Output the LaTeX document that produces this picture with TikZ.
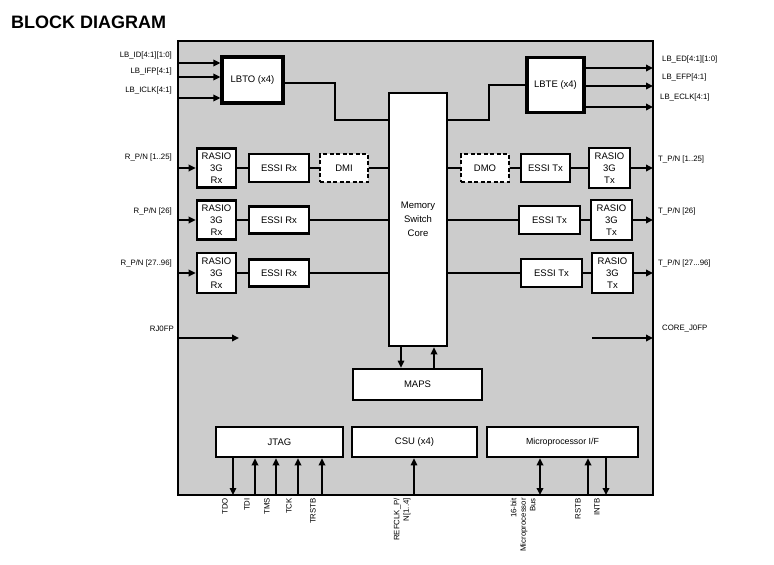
\documentclass[tikz,border=0pt]{standalone}
\usepackage{fontspec}
\setmainfont{Liberation Sans}
\usetikzlibrary{arrows.meta}
\definecolor{bg}{HTML}{CCCCCC}
\begin{document}
\begin{tikzpicture}[x=1pt,y=-1pt,
  blk/.style={draw, line width=2.6pt, fill=white, inner sep=0pt, align=center,
    font=\fontsize{9.5}{12}\selectfont},
  bigblk/.style={blk, line width=3.2pt},
  dblk/.style={blk, dash pattern=on 4pt off 2.5pt},
  wire/.style={line width=2pt},
  thinw/.style={line width=1.2pt},
  tip/.style={-{Triangle[length=7pt,width=6.5pt]}},
  arr/.style={wire, tip},
  pin/.style={font=\fontsize{7.8}{9.5}\selectfont, inner sep=0pt},
  vpin/.style={pin, rotate=90, anchor=east, align=right}]
\useasboundingbox (0,0) rectangle (774,565);
\fill[white] (0,0) rectangle (774,565);
% title
\node[anchor=west, inner sep=0pt, font=\fontsize{18}{20}\selectfont\bfseries] (title) at (11,22) {BLOCK DIAGRAM};
% main chip outline
\draw[line width=1.5pt, fill=bg] (178,41) rectangle (653,495);
% blocks
\node[bigblk, minimum width=61pt, minimum height=46pt] (lbto) at (252.5,80) {LBTO (x4)};
\node[bigblk, minimum width=57pt, minimum height=55pt] (lbte) at (555.5,85) {LBTE (x4)};
\node[blk, minimum width=58pt, minimum height=253pt, font=\fontsize{9.5}{14}\selectfont] (mem) at (418,219.5) {Memory\\Switch\\Core};
\node[blk, minimum width=129pt, minimum height=31pt] (maps) at (417.5,384.5) {MAPS};
% rx side
\node[blk, minimum width=39pt, minimum height=39pt] (rasR1) at (216.5,168) {RASIO\\3G\\Rx};
\node[blk, minimum width=60pt, minimum height=28pt] (esR1) at (279,168) {ESSI Rx};
\node[dblk, minimum width=48pt, minimum height=28pt] (dmi) at (344,168) {DMI};
\node[blk, minimum width=39pt, minimum height=39pt] (rasR2) at (216.5,220) {RASIO\\3G\\Rx};
\node[blk, minimum width=60pt, minimum height=27pt] (esR2) at (279,220) {ESSI Rx};
\node[blk, minimum width=39pt, minimum height=40pt] (rasR3) at (216.5,273) {RASIO\\3G\\Rx};
\node[blk, minimum width=60pt, minimum height=27pt] (esR3) at (279,273) {ESSI Rx};
% tx side
\node[dblk, minimum width=48pt, minimum height=28pt] (dmo) at (485,168) {DMO};
\node[blk, minimum width=49pt, minimum height=28pt] (esT1) at (545.5,168) {ESSI Tx};
\node[blk, minimum width=41pt, minimum height=40pt] (rasT1) at (609.5,168) {RASIO\\3G\\Tx};
\node[blk, minimum width=61pt, minimum height=28pt] (esT2) at (549.5,220) {ESSI Tx};
\node[blk, minimum width=41pt, minimum height=40pt] (rasT2) at (611.5,220) {RASIO\\3G\\Tx};
\node[blk, minimum width=61pt, minimum height=28pt] (esT3) at (551.5,273) {ESSI Tx};
\node[blk, minimum width=41pt, minimum height=40pt] (rasT3) at (612.5,273) {RASIO\\3G\\Tx};
% bottom blocks
\node[blk, minimum width=127pt, minimum height=30pt] (jtag) at (279.5,442) {JTAG};
\node[blk, minimum width=125pt, minimum height=30pt] (csu) at (414.5,442) {CSU (x4)};
\node[blk, minimum width=151pt, minimum height=30pt, font=\fontsize{8.8}{10}\selectfont] (mpif) at (562.5,442) {Microprocessor I/F};

% LB inputs
\coordinate (i1) at (178,63);
\coordinate (i2) at (178,77);
\coordinate (i3) at (178,98);
\draw[arr] (i1) -- (i1 -| lbto.west);
\draw[arr] (i2) -- (i2 -| lbto.west);
\draw[arr] (i3) -- (i3 -| lbto.west);
\node[pin, anchor=east] (li1) at (172,55) {LB\_ID[4:1][1:0]};
\node[pin, anchor=east] (li2) at (172,71) {LB\_IFP[4:1]};
\node[pin, anchor=east] (li3) at (172,90) {LB\_ICLK[4:1]};
% LB outputs
\coordinate (o1) at (653,68);
\coordinate (o2) at (653,86);
\coordinate (o3) at (653,107);
\draw[arr] (o1 -| lbte.east) -- (o1);
\draw[arr] (o2 -| lbte.east) -- (o2);
\draw[arr] (o3 -| lbte.east) -- (o3);
\node[pin, anchor=west] (lo1) at (662,59) {LB\_ED[4:1][1:0]};
\node[pin, anchor=west] (lo2) at (662,77) {LB\_EFP[4:1]};
\node[pin, anchor=west] (lo3) at (660,97) {LB\_ECLK[4:1]};
% LBTO -> core -> LBTE
\coordinate (jl) at (335,120);
\coordinate (jr) at (489,120);
\coordinate (lbtoout) at (283,83);
\draw[wire] (lbtoout) -| (jl) -- (jl -| mem.west);
\draw[wire] (jr -| mem.east) -- (jr) |- (lbte.west);

% receive rows
\coordinate (r1) at (178,168);
\coordinate (r2) at (178,220);
\coordinate (r3) at (178,273);
\draw[arr] (r1) -- (rasR1.west);
\draw[arr] (r2) -- (rasR2.west);
\draw[arr] (r3) -- (rasR3.west);
\draw[wire] (rasR1.east) -- (esR1.west);
\draw[wire] (esR1.east) -- (dmi.west);
\draw[wire] (dmi.east) -- (dmi.east -| mem.west);
\draw[wire] (rasR2.east) -- (esR2.west);
\draw[wire] (esR2.east) -- (esR2.east -| mem.west);
\draw[wire] (rasR3.east) -- (esR3.west);
\draw[wire] (esR3.east) -- (esR3.east -| mem.west);
\node[pin, anchor=east] (lr1) at (172,157) {R\_P/N [1..25]};
\node[pin, anchor=east] (lr2) at (172,211) {R\_P/N [26]};
\node[pin, anchor=east] (lr3) at (172,263) {R\_P/N [27..96]};
% transmit rows
\coordinate (t1) at (653,168);
\coordinate (t2) at (653,220);
\coordinate (t3) at (653,273);
\draw[wire] (dmo.west -| mem.east) -- (dmo.west);
\draw[wire] (dmo.east) -- (esT1.west);
\draw[wire] (esT1.east) -- (rasT1.west);
\draw[arr] (rasT1.east) -- (t1);
\draw[wire] (esT2.west -| mem.east) -- (esT2.west);
\draw[wire] (esT2.east) -- (rasT2.west);
\draw[arr] (rasT2.east) -- (t2);
\draw[wire] (esT3.west -| mem.east) -- (esT3.west);
\draw[wire] (esT3.east) -- (rasT3.west);
\draw[arr] (rasT3.east) -- (t3);
\node[pin, anchor=west] (lt1) at (658,159) {T\_P/N [1..25]};
\node[pin, anchor=west] (lt2) at (658,211) {T\_P/N [26]};
\node[pin, anchor=west] (lt3) at (658,263) {T\_P/N [27...96]};

% frame pulses
\coordinate (rj) at (178,338);
\coordinate (rje) at (239,338);
\draw[arr] (rj) -- (rje);
\node[pin, anchor=east] (lrj) at (174,329) {RJ0FP};
\coordinate (cj) at (592,338);
\coordinate (cje) at (653,338);
\draw[arr] (cj) -- (cje);
\node[pin, anchor=west] (lcj) at (662,329) {CORE\_J0FP};

% core <-> MAPS
\coordinate (md) at (401,0);
\coordinate (mu) at (434,0);
\draw[thinw, tip] (mem.south -| md) -- (maps.north -| md);
\draw[arr] (maps.north -| mu) -- (mem.south -| mu);

% bottom pins
\coordinate (pTDO) at (233,495);
\coordinate (pTDI) at (255,495);
\coordinate (pTMS) at (276,495);
\coordinate (pTCK) at (298,495);
\coordinate (pTRS) at (322,495);
\coordinate (pREF) at (414,495);
\coordinate (pBUS) at (540,495);
\coordinate (pRST) at (588,495);
\coordinate (pINT) at (606,495);
\draw[thinw, tip] (jtag.south -| pTDO) -- (pTDO);
\draw[arr] (pTDI) -- (jtag.south -| pTDI);
\draw[arr] (pTMS) -- (jtag.south -| pTMS);
\draw[arr] (pTCK) -- (jtag.south -| pTCK);
\draw[arr] (pTRS) -- (jtag.south -| pTRS);
\draw[thinw, tip] (pREF) -- (csu.south -| pREF);
\draw[line width=2pt, {Triangle[length=7pt,width=6.5pt]}-{Triangle[length=7pt,width=6.5pt]}] (mpif.south -| pBUS) -- (pBUS);
\draw[arr] (pRST) -- (mpif.south -| pRST);
\draw[arr] (mpif.south -| pINT) -- (pINT);
\node[vpin] (lTDO) at (225,498) {TDO};
\node[vpin] (lTDI) at (247,498) {TDI};
\node[vpin] (lTMS) at (267,498) {TMS};
\node[vpin] (lTCK) at (289,498) {TCK};
\node[vpin] (lTRS) at (313,498) {TRSTB};
\node[vpin] (lREF) at (402,498) {REFCLK\_P/\\N[1..4]};
\node[vpin] (lBUS) at (523,498) {16-bit\\Microprocessor\\Bus};
\node[vpin] (lRST) at (578,498) {RSTB};
\node[vpin] (lINT) at (597,498) {INTB};
\end{tikzpicture}
\end{document}
